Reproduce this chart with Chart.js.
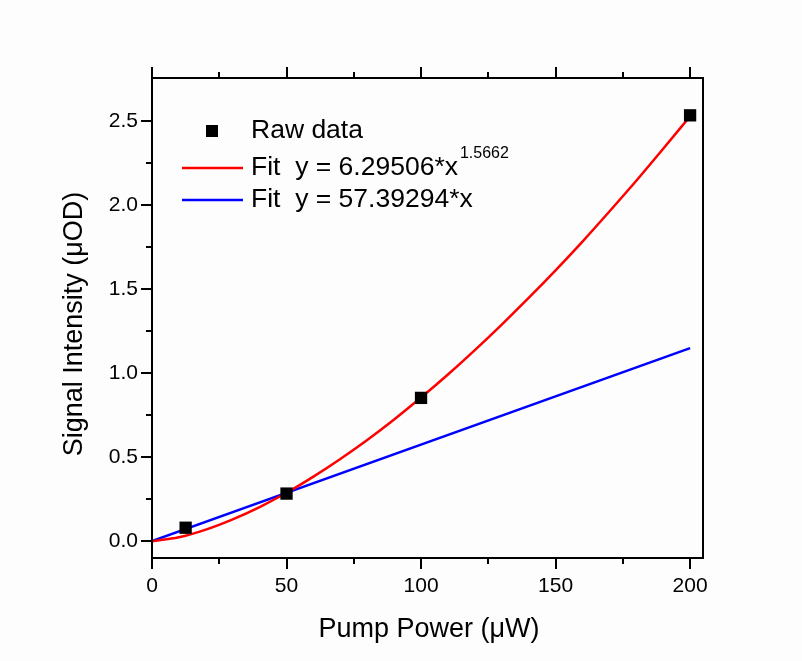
<!DOCTYPE html>
<html lang="en">
<head>
    <meta charset="UTF-8">
    <title>Signal Intensity vs Pump Power</title>
    <style>
        html, body {
            margin: 0;
            padding: 0;
            background-color: #fdfdfd;
        }
        canvas {
            display: block;
        }
    </style>
</head>
<body>
    <canvas id="chart" width="802" height="661"></canvas>

    <script src="https://cdn.jsdelivr.net/npm/chart.js"></script>
    <script>
        // Raw measurements (pump power in µW, signal in µOD)
        const rawX = [12.5, 50, 100, 200];
        const rawY = [0.08, 0.283, 0.852, 2.532];

        // Power-law fit curve
        const powX = [0, 10, 20, 30, 40, 50, 60, 70, 80, 90, 100, 110, 120, 130, 140, 150, 160, 170, 180, 190, 200];
        const powY = [0, 0.023, 0.069, 0.130, 0.203, 0.288, 0.384, 0.489, 0.602, 0.724, 0.854, 0.991, 1.136, 1.288, 1.446, 1.610, 1.781, 1.960, 2.143, 2.333, 2.527];

        // Linear fit
        const linX = [0, 200];
        const linY = [0, 1.148];

        // Axis ticks
        const xTicks = [0, 50, 100, 150, 200];
        const xMinor = [25, 75, 125, 175];
        const yTicks = [0.0, 0.5, 1.0, 1.5, 2.0, 2.5];
        const yMinor = [0.25, 0.75, 1.25, 1.75, 2.25];

        // Legend texts
        const legendLabels = ['Raw data', 'Fit  y = 6.29506*x', 'Fit  y = 57.39294*x'];
        const legendSup = '1.5662';

        const FONT = '"Liberation Sans", Arial, sans-serif';

        function toPoints(xs, ys) {
            return xs.map((x, i) => ({ x: x, y: ys[i] }));
        }

        // Frame, outward ticks, axis titles and the legend
        const decorPlugin = {
            id: 'decor',
            afterDraw(chart) {
                const ctx = chart.ctx;
                const a = chart.chartArea;
                const xs = chart.scales.x;
                const ys = chart.scales.y;
                ctx.save();
                ctx.strokeStyle = '#000';
                ctx.lineWidth = 2;
                ctx.lineCap = 'butt';

                // frame
                ctx.strokeRect(a.left, a.top, a.right - a.left, a.bottom - a.top);

                // ticks
                ctx.beginPath();
                xTicks.forEach(v => {
                    const px = Math.round(xs.getPixelForValue(v));
                    ctx.moveTo(px, a.bottom); ctx.lineTo(px, a.bottom + 11);
                    ctx.moveTo(px, a.top); ctx.lineTo(px, a.top - 11);
                });
                xMinor.forEach(v => {
                    const px = Math.round(xs.getPixelForValue(v));
                    ctx.moveTo(px, a.bottom); ctx.lineTo(px, a.bottom + 6);
                    ctx.moveTo(px, a.top); ctx.lineTo(px, a.top - 6);
                });
                yTicks.forEach(v => {
                    const py = Math.round(ys.getPixelForValue(v));
                    ctx.moveTo(a.left, py); ctx.lineTo(a.left - 11, py);
                });
                yMinor.forEach(v => {
                    const py = Math.round(ys.getPixelForValue(v));
                    ctx.moveTo(a.left, py); ctx.lineTo(a.left - 6, py);
                });
                ctx.stroke();

                // axis titles
                ctx.fillStyle = '#000';
                ctx.font = '27px ' + FONT;
                ctx.textAlign = 'center';
                ctx.textBaseline = 'alphabetic';
                ctx.fillText('Pump Power (\u03bcW)', 429, 637);

                ctx.save();
                ctx.translate(82, 324);
                ctx.rotate(-Math.PI / 2);
                ctx.fillText('Signal Intensity (\u03bcOD)', 0, 0);
                ctx.restore();

                // legend
                const lx = 251;
                const rows = [131, 168, 200];
                ctx.textAlign = 'left';
                ctx.textBaseline = 'middle';
                ctx.font = '26.5px ' + FONT;

                ctx.fillStyle = '#000';
                ctx.fillRect(206, rows[0] - 6, 12, 12);
                ctx.fillText(legendLabels[0], lx, rows[0]);

                ctx.lineWidth = 2.5;
                ctx.strokeStyle = '#ff0000';
                ctx.beginPath();
                ctx.moveTo(182, rows[1]); ctx.lineTo(243, rows[1]);
                ctx.stroke();
                ctx.fillText(legendLabels[1], lx, rows[1]);
                const w = ctx.measureText(legendLabels[1]).width;
                ctx.font = '16px ' + FONT;
                ctx.fillText(legendSup, lx + w + 2, rows[1] - 14);

                ctx.font = '26.5px ' + FONT;
                ctx.strokeStyle = '#0000ff';
                ctx.beginPath();
                ctx.moveTo(182, rows[2]); ctx.lineTo(243, rows[2]);
                ctx.stroke();
                ctx.fillText(legendLabels[2], lx, rows[2]);

                ctx.restore();
            }
        };

        new Chart(document.getElementById('chart'), {
            type: 'scatter',
            data: {
                datasets: [
                    {
                        label: legendLabels[0],
                        data: toPoints(rawX, rawY),
                        pointStyle: 'rect',
                        pointRadius: 8.7,
                        pointHoverRadius: 8.7,
                        backgroundColor: '#000',
                        borderWidth: 0
                    },
                    {
                        label: legendLabels[1],
                        data: toPoints(powX, powY),
                        showLine: true,
                        cubicInterpolationMode: 'monotone',
                        borderColor: '#ff0000',
                        borderWidth: 2.5,
                        pointRadius: 0,
                        pointHoverRadius: 0
                    },
                    {
                        label: legendLabels[2],
                        data: toPoints(linX, linY),
                        showLine: true,
                        borderColor: '#0000ff',
                        borderWidth: 2.5,
                        pointRadius: 0,
                        pointHoverRadius: 0
                    }
                ]
            },
            options: {
                responsive: false,
                animation: false,
                layout: { padding: { left: 0, top: 78, right: 99, bottom: 0 } },
                plugins: {
                    legend: { display: false },
                    tooltip: { enabled: false }
                },
                scales: {
                    x: {
                        type: 'linear',
                        min: 0,
                        max: 204.8,
                        afterBuildTicks: s => { s.ticks = xTicks.map(v => ({ value: v })); },
                        afterFit: s => { s.height = 103; },
                        grid: { display: false, drawTicks: false },
                        border: { display: false },
                        ticks: {
                            color: '#000',
                            padding: 16,
                            maxRotation: 0,
                            font: { family: FONT, size: 21 },
                            callback: v => String(v)
                        }
                    },
                    y: {
                        type: 'linear',
                        min: -0.1,
                        max: 2.754,
                        afterBuildTicks: s => { s.ticks = yTicks.map(v => ({ value: v })); },
                        afterFit: s => { s.width = 152; },
                        grid: { display: false, drawTicks: false },
                        border: { display: false },
                        ticks: {
                            color: '#000',
                            padding: 14,
                            font: { family: FONT, size: 21 },
                            callback: v => v.toFixed(1)
                        }
                    }
                }
            },
            plugins: [decorPlugin]
        });
    </script>
</body>
</html>
